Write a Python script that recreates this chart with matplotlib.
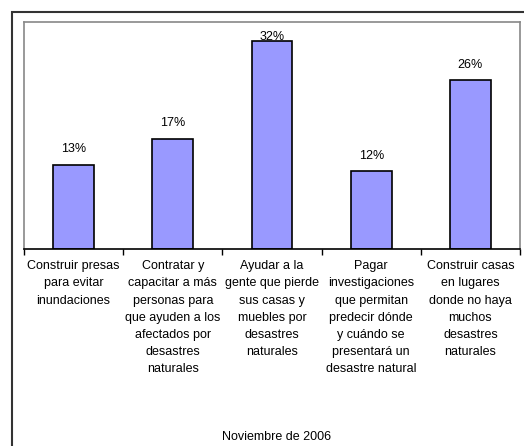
import matplotlib
matplotlib.use("Agg")
import matplotlib.pyplot as plt
from matplotlib.patches import Rectangle

plt.rcParams['font.family'] = ['Liberation Sans', 'DejaVu Sans']

categories = [
    "Construir presas\npara evitar\ninundaciones",
    "Contratar y\ncapacitar a más\npersonas para\nque ayuden a los\nafectados por\ndesastres\nnaturales",
    "Ayudar a la\ngente que pierde\nsus casas y\nmuebles por\ndesastres\nnaturales",
    "Pagar\ninvestigaciones\nque permitan\npredecir dónde\ny cuándo se\npresentará un\ndesastre natural",
    "Construir casas\nen lugares\ndonde no haya\nmuchos\ndesastres\nnaturales",
]
values = [13, 17, 32, 12, 26]
footer = "Noviembre de 2006"

W, H = 524, 446
FS = 9
fig = plt.figure(figsize=(W / 100, H / 100), dpi=100)
fig.patch.set_facecolor('white')

# outer frame (extends beyond right/bottom edge)
fig.patches.append(Rectangle((11.5 / W, -0.05), 1.1, (H - 11.5) / H + 0.05,
                             transform=fig.transFigure, fill=False,
                             edgecolor='#333333', linewidth=1.5, zorder=0))

ax = fig.add_axes([24 / W, (H - 249) / H, (520 - 24) / W, (249 - 22) / H])
x = list(range(len(values)))
ax.bar(x, values, width=0.41, color='#9999FF', edgecolor='black', linewidth=1.2, zorder=2)
ymax = 35
ax.set_xlim(-0.5, len(values) - 0.5)
ax.set_ylim(0, ymax)
ax.set_yticks([])

for xi, v in zip(x, values):
    off = 9 if v < ymax - 4 else 1
    ax.annotate(f"{v}%", (xi, v), xytext=(0, off), textcoords='offset points',
                ha='center', va='baseline', fontsize=FS, color='black', zorder=3)

ax.set_xticks(x)
ax.set_xticklabels(categories, fontsize=FS, linespacing=1.58)
ax.tick_params(axis='x', which='major', length=0, pad=8)
ax.set_xticks([i - 0.5 for i in range(len(values) + 1)], minor=True)
ax.tick_params(axis='x', which='minor', length=4, width=1, color='black', direction='out')

for s in ['left', 'top', 'right']:
    ax.spines[s].set_color('#888888')
    ax.spines[s].set_linewidth(1.2)
ax.spines['bottom'].set_color('black')
ax.spines['bottom'].set_linewidth(1.2)

fig.text(277 / W, (H - 437) / H, footer, ha='center', va='center', fontsize=FS)

fig.savefig('out.png', dpi=100, facecolor='white')
